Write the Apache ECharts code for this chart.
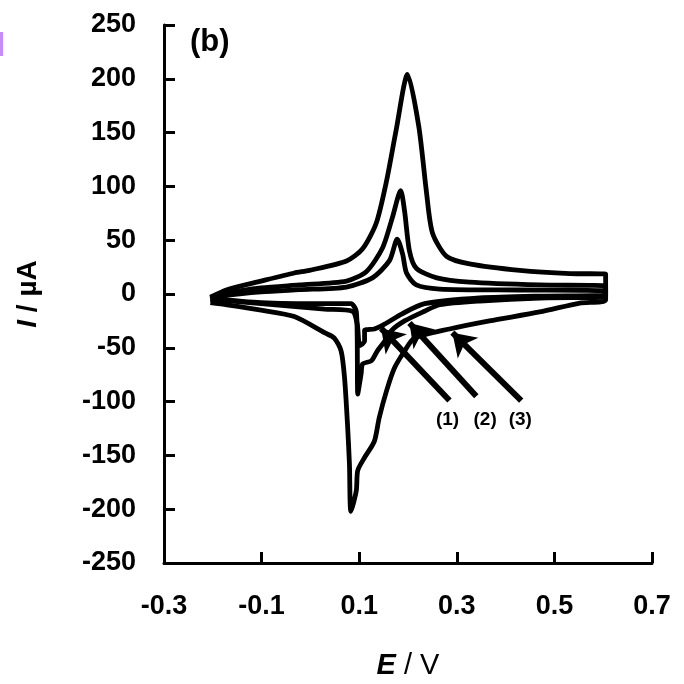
<!DOCTYPE html>
<html>
<head>
<meta charset="utf-8">
<script src="https://cdn.jsdelivr.net/npm/echarts@6/dist/echarts.min.js"></script>
<style>
  html, body { margin: 0; padding: 0; background: #fff; }
  #main { width: 684px; height: 684px; }
</style>
</head>
<body>
<div id="main"></div>
<script>
// potential ticks shown on the E axis
var eTicks = [-0.3, -0.1, 0.1, 0.3, 0.5, 0.7];

// loop (1): anodic sweep then cathodic sweep back
var loop1E = [-0.205, -0.167, -0.101, -0.023, 0.074, 0.127, 0.162, 0.178, 0.189, 0.197, 0.217, 0.265, 0.429, 0.605,
              0.605, 0.47, 0.347, 0.234, 0.187, 0.152, 0.131, 0.111, 0.111, 0.101, 0.096, 0.086, 0.029, -0.101, -0.205];
var loop1I = [-5, -1, 2, 4, 6.5, 15, 31, 51, 37, 19.5, 8.4, 4.6, 3.7, 2.8,
              -1, -1.9, -3.7, -9, -18.6, -28, -32.5, -34, -44, -48, -28, -16, -14, -9, -5];

// loop (2)
var loop2E = [-0.205, -0.167, -0.101, -0.023, 0.074, 0.115, 0.148, 0.168, 0.185, 0.193, 0.203, 0.217, 0.259, 0.326, 0.47, 0.605,
              0.605, 0.47, 0.347, 0.265, 0.234, 0.193, 0.166, 0.152, 0.137, 0.125, 0.107, 0.104, 0.097, 0.096, 0.094, 0.083, 0.029, -0.101, -0.205];
var loop2I = [-4, 1, 5.6, 8.4, 12, 21, 43, 71, 96, 77, 40, 24, 15, 11, 8.4, 7.4,
              -2.8, -3.7, -6.5, -10, -16, -25, -34, -44, -53, -62, -65, -74, -93, -44, -16, -9, -9, -8, -4];

// loop (3)
var loop3E = [-0.205, -0.171, -0.101, -0.033, -0.002, 0.074, 0.107, 0.135, 0.156, 0.176, 0.199, 0.222, 0.238, 0.250, 0.279, 0.326, 0.429, 0.532, 0.605,
              0.605, 0.552, 0.470, 0.367, 0.285, 0.213, 0.193, 0.172, 0.156, 0.141, 0.131, 0.111, 0.097, 0.094, 0.083, 0.080, 0.076, 0.070, 0.063, 0.049, 0.029, -0.033, -0.101, -0.171, -0.205];
var loop3I = [-3, 4, 12, 19.5, 22, 30.7, 42, 66, 105, 153, 204, 156, 94, 57, 35, 28, 22, 19, 18.6,
              -5.6, -8.4, -16.7, -25, -32.5, -41, -53, -69, -90, -115, -137, -152, -164, -183, -202, -158, -121, -78, -53, -41, -36, -21, -15, -10, -8];

// arrows pointing at each loop, with the loop labels under the tails
var arrowLabels = ['(1)', '(2)', '(3)'];
var arrowTails = [[0.285, -99], [0.340, -95], [0.432, -99]];
var arrowHeads = [[0.145, -32], [0.203, -27], [0.291, -36]];
var labelPos = [[0.281, -117], [0.358, -117], [0.430, -117]];

function pairs(xs, ys) {
    return xs.map(function (x, i) { return [x, ys[i]]; });
}

var chartDom = document.getElementById('main');
var myChart = echarts.init(chartDom);
var option;

var font = 'Liberation Sans, Arial, sans-serif';

function loopSeries(name, xs, ys) {
    return {
        name: name,
        type: 'line',
        data: pairs(xs, ys),
        showSymbol: false,
        smooth: 0.25,
        lineStyle: { color: '#000', width: 4.8 },
        z: 3
    };
}

option = {
    animation: false,
    backgroundColor: '#fff',
    grid: {
        left: 164,
        right: 32,
        top: 25,
        bottom: 121,
        containLabel: false,
        outerBoundsMode: 'none'
    },
    xAxis: {
        type: 'value',
        min: -0.3,
        max: 0.7,
        name: '{i|E}{n| / V}',
        nameLocation: 'middle',
        nameGap: 88,
        nameTextStyle: {
            rich: {
                i: { fontStyle: 'italic', fontWeight: 'bold', fontSize: 29, fontFamily: font, color: '#000' },
                n: { fontWeight: 'normal', fontSize: 29, fontFamily: font, color: '#000' }
            }
        },
        splitLine: { show: false },
        axisLine: { onZero: false, lineStyle: { color: '#000', width: 3 } },
        axisTick: { inside: true, length: 11, customValues: eTicks, lineStyle: { color: '#000', width: 3 } },
        axisLabel: {
            customValues: eTicks,
            margin: 30,
            fontSize: 27,
            fontWeight: 'bold',
            fontFamily: font,
            color: '#000',
            formatter: function (v) { return v.toFixed(1); }
        }
    },
    yAxis: {
        type: 'value',
        min: -250,
        max: 250,
        interval: 50,
        name: '{i|I}{n| / µA}',
        nameLocation: 'middle',
        nameGap: 122,
        nameRotate: 90,
        nameTextStyle: {
            rich: {
                i: { fontStyle: 'italic', fontWeight: 'bold', fontSize: 28, fontFamily: font, color: '#000' },
                n: { fontWeight: 'bold', fontSize: 28, fontFamily: font, color: '#000' }
            }
        },
        splitLine: { show: false },
        axisLine: { onZero: false, lineStyle: { color: '#000', width: 3 } },
        axisTick: { inside: true, length: 11, lineStyle: { color: '#000', width: 3 } },
        axisLabel: {
            margin: 28,
            fontSize: 27,
            fontWeight: 'bold',
            fontFamily: font,
            color: '#000'
        }
    },
    graphic: [
        {
            type: 'text',
            left: 190,
            top: 27,
            style: { text: '(b)', font: 'bold 31px ' + font, fill: '#000' }
        },
        {
            type: 'rect',
            left: 0,
            top: 32,
            shape: { width: 3, height: 24 },
            style: { fill: '#c58cf5' }
        }
    ],
    series: [
        loopSeries('(1)', loop1E, loop1I),
        loopSeries('(2)', loop2E, loop2I),
        loopSeries('(3)', loop3E, loop3I),
        {
            name: 'arrows',
            type: 'scatter',
            symbolSize: 0,
            itemStyle: { color: '#000', opacity: 1 },
            data: labelPos.map(function (p, i) { return { value: p, name: arrowLabels[i] }; }),
            label: {
                show: true,
                position: 'inside',
                formatter: '{b}',
                fontSize: 19,
                fontWeight: 'bold',
                fontFamily: font,
                color: '#000'
            },
            markLine: {
                silent: true,
                symbol: ['none', 'arrow'],
                symbolSize: 22,
                label: { show: false },
                lineStyle: { color: '#000', width: 6, type: 'solid', opacity: 1 },
                data: arrowTails.map(function (t, i) {
                    return [{ coord: t }, { coord: arrowHeads[i] }];
                })
            },
            z: 4
        }
    ]
};

option && myChart.setOption(option);
</script>
</body>
</html>
